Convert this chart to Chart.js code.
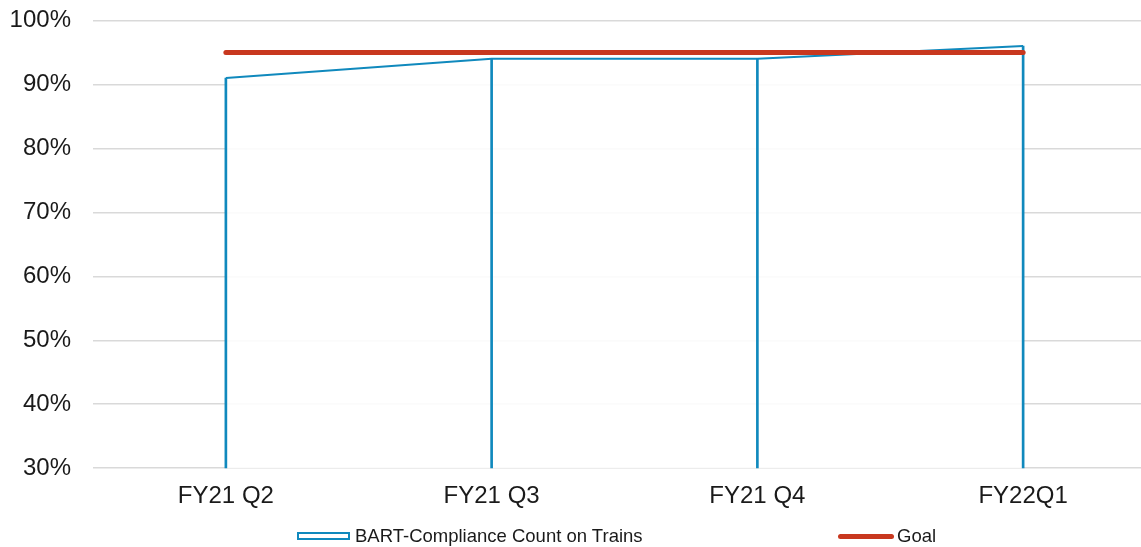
<!DOCTYPE html>
<html>
<head>
<meta charset="utf-8">
<script src="https://cdn.jsdelivr.net/npm/chart.js@4.4.1/dist/chart.umd.min.js"></script>
<style>
    html, body { margin: 0; padding: 0; background: #fff; overflow: hidden; }
    body { width: 1141px; height: 547px; position: relative; font-family: "Liberation Sans", Arial, sans-serif; }
    #wrap { position: absolute; left: 0; top: -16px; width: 1160px; height: 545px; }
    #legend { position: absolute; left: 0; top: 526px; height: 20px; width: 1141px; font-size: 18.5px; color: #1a1a1a; }
    .item { position: absolute; top: 0; height: 20px; display: flex; align-items: center; }
    .box { width: 49px; height: 4px; border: 2px solid #1089bd; background: #fff; margin-right: 5px; }
    .stroke { width: 56px; height: 5px; border-radius: 3px; background: #c8381f; margin-right: 3px; }
</style>
</head>
<body>
<div id="wrap"><canvas id="chart"></canvas></div>
<div id="legend"></div>
<script>
const categories = ['FY21 Q2', 'FY21 Q3', 'FY21 Q4', 'FY22Q1'];
const compliance = [91, 94, 94, 96];
const goal = [95, 95, 95, 95];
const yMin = 30;
const yMax = 100;
const yStep = 10;

const blue = '#1089bd';
const red = '#c8381f';

window.addEventListener('load', setup);

function setup() {
    const ctx = document.getElementById('chart').getContext('2d');
    const chart = new Chart(ctx, {
        type: 'bar',
        data: {
            labels: categories,
            datasets: [{
                // white area under the compliance line
                type: 'line',
                label: 'BART-Compliance Count on Trains',
                data: compliance,
                fill: 'start',
                backgroundColor: 'rgba(255, 255, 255, 0.88)',
                borderColor: blue,
                borderWidth: 2,
                pointRadius: 0,
                tension: 0,
                order: 3
            }, {
                // drop lines under each quarter
                type: 'bar',
                label: 'drop',
                data: compliance,
                backgroundColor: blue,
                barThickness: 2,
                order: 2
            }, {
                type: 'line',
                label: 'Goal',
                data: goal,
                fill: false,
                borderColor: red,
                borderWidth: 5,
                borderCapStyle: 'round',
                pointRadius: 0,
                order: 1
            }]
        },
        options: {
            responsive: true,
            maintainAspectRatio: false,
            animation: false,
            layout: { autoPadding: false, padding: { top: 20, right: 4, bottom: 4, left: 0 } },
            plugins: {
                legend: { display: false },
                tooltip: { enabled: false }
            },
            scales: {
                x: {
                    offset: true,
                    grid: { display: false, drawTicks: false },
                    border: { display: false },
                    ticks: {
                        padding: 14,
                        color: '#1a1a1a',
                        font: { family: 'Liberation Sans', size: 24 }
                    }
                },
                y: {
                    min: yMin,
                    max: yMax,
                    grid: { color: '#d9d9d9', lineWidth: 1.5, drawTicks: false },
                    border: { display: false },
                    afterFit: scale => { scale.width = 93; },
                    ticks: {
                        stepSize: yStep,
                        padding: 22,
                        color: '#1a1a1a',
                        font: { family: 'Liberation Sans', size: 24 },
                        callback: v => v + '%'
                    }
                }
            }
        }
    });
    buildLegend(chart);
}

// legend below the plot, only the two named series
function buildLegend(chart) {
    const el = document.getElementById('legend');
    const ds = chart.data.datasets;
    const items = [
        { text: ds[0].label, cls: 'box', left: 297 },
        { text: ds[2].label, cls: 'stroke', left: 838 }
    ];
    items.forEach(it => {
        const div = document.createElement('div');
        div.className = 'item';
        div.style.left = it.left + 'px';
        const mark = document.createElement('span');
        mark.className = it.cls;
        const label = document.createElement('span');
        label.textContent = it.text;
        div.appendChild(mark);
        div.appendChild(label);
        el.appendChild(div);
    });
}
</script>
</body>
</html>
